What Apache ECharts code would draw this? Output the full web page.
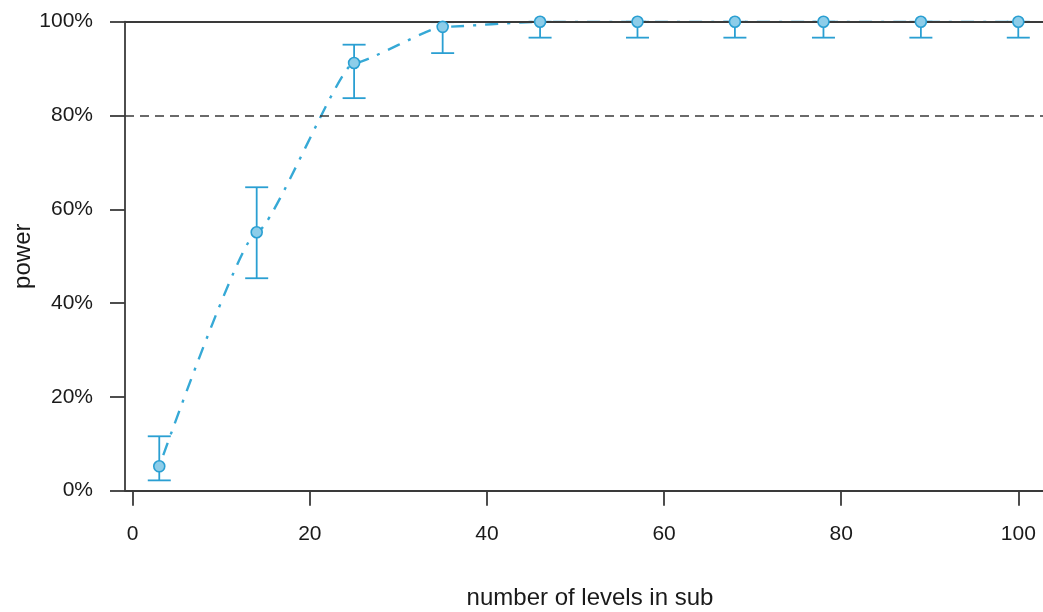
<!DOCTYPE html>
<html>
<head>
<meta charset="utf-8">
<script src="https://cdn.jsdelivr.net/npm/echarts@6/dist/echarts.min.js"></script>
<style>
  html, body { margin: 0; padding: 0; background: #ffffff; }
  #chart { width: 1043px; height: 612px; }
</style>
</head>
<body>
<div id="chart"></div>
<script>
// Data
const levels = [3, 14, 25, 35, 46, 57, 68, 78, 89, 100];
const power  = [5.2, 55.1, 91.2, 98.9, 100, 100, 100, 100, 100, 100];
const lower  = [2.2, 45.3, 83.7, 93.3, 96.6, 96.6, 96.6, 96.6, 96.6, 96.6];
const upper  = [11.6, 64.7, 95.1, 99.9, 100, 100, 100, 100, 100, 100];
const xTicks = [0, 20, 40, 60, 80, 100];
const yTicks = [0, 20, 40, 60, 80, 100];
const targetPower = 80;

const FONT = "'Liberation Sans', Arial, sans-serif";
const AXIS_COLOR = '#3a3a3a';
const TEXT_COLOR = '#1a1a1a';
const BAR_COLOR = '#2a9fd2';
const LINE_COLOR = '#36a9d6';
const POINT_FILL = '#8dcde9';

const chart = echarts.init(document.getElementById('chart'), null, { renderer: 'canvas' });

const errData = levels.map((x, i) => [x, lower[i], upper[i]]);
const lineData = levels.map((x, i) => [x, power[i]]);

const option = {
  animation: false,
  backgroundColor: '#ffffff',
  grid: { left: 125, right: 0, top: 21.7, bottom: 121.3, containLabel: false, outerBoundsMode: 'none' },
  xAxis: {
    type: 'value',
    min: -0.87,
    max: 102.79,
    name: 'number of levels in sub',
    nameLocation: 'middle',
    nameGap: 96,
    nameTextStyle: { fontFamily: FONT, fontSize: 24, color: TEXT_COLOR, padding: [0, 0, 0, 12] },
    axisLine: { show: true, onZero: false, lineStyle: { color: AXIS_COLOR, width: 1.8 } },
    axisTick: { show: true, inside: false, length: 15, customValues: xTicks, lineStyle: { color: AXIS_COLOR, width: 1.8 } },
    axisLabel: { show: true, customValues: xTicks, margin: 33, fontFamily: FONT, fontSize: 21, color: TEXT_COLOR },
    splitLine: { show: false }
  },
  yAxis: {
    type: 'value',
    min: 0,
    max: 100,
    interval: 20,
    name: 'power',
    nameLocation: 'middle',
    nameGap: 90,
    nameMoveOverlap: false,
    nameTextStyle: { fontFamily: FONT, fontSize: 24, color: TEXT_COLOR },
    axisLine: { show: true, onZero: false, lineStyle: { color: AXIS_COLOR, width: 1.8 } },
    axisTick: { show: true, inside: false, length: 15, customValues: yTicks, lineStyle: { color: AXIS_COLOR, width: 1.8 } },
    axisLabel: { show: true, customValues: yTicks, margin: 32, formatter: '{value}%', fontFamily: FONT, fontSize: 21, color: TEXT_COLOR, padding: [4, 0, 0, 0] },
    splitLine: { show: false }
  },
  series: [
    {
      name: 'reference lines',
      type: 'line',
      data: [],
      z: 1,
      silent: true,
      markLine: {
        silent: true,
        symbol: 'none',
        label: { show: false },
        animation: false,
        data: [
          { yAxis: 100, lineStyle: { color: AXIS_COLOR, width: 1.8, type: 'solid' } },
          { yAxis: targetPower, lineStyle: { color: AXIS_COLOR, width: 1.6, type: [9, 6] } }
        ]
      }
    },
    {
      name: 'ci',
      type: 'custom',
      z: 3,
      data: errData,
      renderItem: function (params, api) {
        const x = api.value(0);
        const lo = api.coord([x, api.value(1)]);
        const hi = api.coord([x, api.value(2)]);
        const hw = 11.5;
        const st = { stroke: BAR_COLOR, lineWidth: 1.8, fill: null };
        return {
          type: 'group',
          children: [
            { type: 'line', shape: { x1: lo[0], y1: lo[1], x2: hi[0], y2: hi[1] }, style: st },
            { type: 'line', shape: { x1: lo[0] - hw, y1: lo[1], x2: lo[0] + hw, y2: lo[1] }, style: st },
            { type: 'line', shape: { x1: hi[0] - hw, y1: hi[1], x2: hi[0] + hw, y2: hi[1] }, style: st }
          ]
        };
      }
    },
    {
      name: 'power curve',
      type: 'line',
      z: 4,
      data: lineData,
      smooth: 0.15,
      smoothMonotone: 'x',
      showSymbol: false,
      symbol: 'none',
      lineStyle: { color: LINE_COLOR, width: 2.4, type: [3, 9, 13, 9], cap: 'butt' }
    },
    {
      name: 'power',
      type: 'scatter',
      z: 5,
      data: lineData,
      symbol: 'circle',
      symbolSize: 11,
      itemStyle: { color: POINT_FILL, borderColor: BAR_COLOR, borderWidth: 1.6, opacity: 1 }
    }
  ]
};

chart.setOption(option);
</script>
</body>
</html>
